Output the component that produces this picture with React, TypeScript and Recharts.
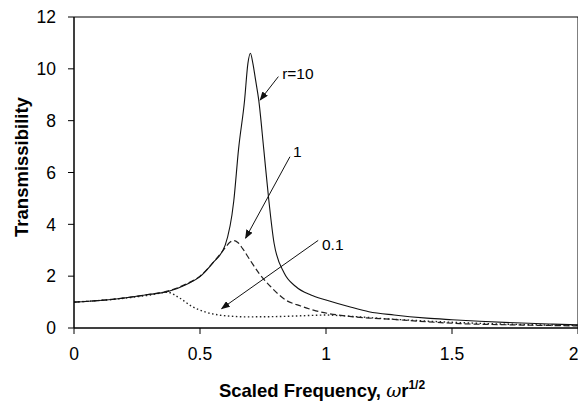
import React from 'react';
import {
  LineChart, Line, XAxis, YAxis, ReferenceArea, ReferenceLine, ReferenceDot,
} from 'recharts';

// r = 10 (solid)
const freqR10 = [0, 0.1, 0.2, 0.3, 0.37, 0.45, 0.5, 0.55, 0.6, 0.634, 0.653, 0.677, 0.69, 0.7, 0.71, 0.72, 0.733, 0.753, 0.773, 0.794, 0.834, 0.88, 0.94, 1.0, 1.1, 1.17, 1.27, 1.4, 1.5, 1.61, 1.75, 1.9, 2.0];
const transR10 = [1.0, 1.06, 1.16, 1.3, 1.4, 1.7, 1.98, 2.5, 3.2, 4.9, 6.9, 8.8, 10.2, 10.6, 10.2, 9.6, 8.8, 6.9, 4.94, 3.27, 2.12, 1.6, 1.27, 1.08, 0.8, 0.63, 0.5, 0.38, 0.32, 0.26, 0.2, 0.15, 0.12];

// r = 1 (dashed)
const freqR1 = [0, 0.1, 0.2, 0.3, 0.37, 0.45, 0.5, 0.55, 0.58, 0.6, 0.62, 0.635, 0.65, 0.67, 0.7, 0.735, 0.78, 0.84, 0.9, 0.95, 1.1, 1.27, 1.4, 1.53, 1.75, 2.0];
const transR1 = [1.0, 1.06, 1.16, 1.3, 1.42, 1.72, 2.0, 2.5, 2.85, 3.1, 3.32, 3.37, 3.3, 3.05, 2.6, 2.1, 1.6, 1.08, 0.85, 0.69, 0.44, 0.33, 0.24, 0.17, 0.12, 0.08];

// r = 0.1 (dotted)
const freqR01 = [0, 0.1, 0.2, 0.3, 0.37, 0.42, 0.47, 0.52, 0.575, 0.63, 0.68, 0.8, 0.9, 1.0, 1.1, 1.25, 1.5, 1.75, 2.0];
const transR01 = [1.0, 1.06, 1.15, 1.27, 1.38, 1.15, 0.82, 0.62, 0.5, 0.45, 0.43, 0.44, 0.47, 0.5, 0.45, 0.35, 0.22, 0.14, 0.1];

const xTicks = [0, 0.5, 1, 1.5, 2];
const yTicks = [0, 2, 4, 6, 8, 10, 12];

const toPoints = (xs: number[], ys: number[]) => xs.map((x, i) => ({ x, y: ys[i] }));

const seriesR10 = toPoints(freqR10, transR10);
const seriesR1 = toPoints(freqR1, transR1);
const seriesR01 = toPoints(freqR01, transR01);

// callouts: label anchor, arrow start, arrow end (in data units)
const callouts = [
  { text: 'r=10', at: { x: 0.826, y: 9.82 }, from: { x: 0.811, y: 9.7 }, to: { x: 0.739, y: 8.8 } },
  { text: '1', at: { x: 0.869, y: 6.81 }, from: { x: 0.857, y: 6.61 }, to: { x: 0.681, y: 3.47 } },
  { text: '0.1', at: { x: 0.984, y: 3.24 }, from: { x: 0.969, y: 3.38 }, to: { x: 0.586, y: 0.75 } },
];

const FONT = '"Liberation Sans", Arial, sans-serif';

const arrowShape = (p: any) => (
  <line x1={p.x1} y1={p.y1} x2={p.x2} y2={p.y2} stroke="#111" strokeWidth={1} markerEnd="url(#arrowHead)" />
);

const XLabel = (props: any) => {
  const vb = props.viewBox;
  return (
    <text x={vb.x + vb.width / 2 - 4} y={vb.y + 69} textAnchor="middle" fontFamily={FONT} fontWeight="bold" fontSize={18.5} fill="#000">
      Scaled Frequency, <tspan fontFamily="'DejaVu Serif', serif" fontStyle="italic" fontWeight="normal">ω</tspan>r
      <tspan dy={-8} fontSize={12}>1/2</tspan>
    </text>
  );
};

const YLabel = () => (
  <text x={28} y={167} transform="rotate(-90, 28, 167)" textAnchor="middle" fontFamily={FONT} fontWeight="bold" fontSize={18.5} fill="#000">
    Transmissibility
  </text>
);

export default function App() {
  return (
    <div style={{ position: 'absolute', left: 0, top: 0, width: 578, height: 404, background: '#fff' }}>
      <svg width={0} height={0} style={{ position: 'absolute' }}>
        <defs>
          <marker id="arrowHead" markerWidth={9} markerHeight={7} refX={8} refY={3.5} orient="auto" markerUnits="userSpaceOnUse">
            <path d="M0,0 L9,3.5 L0,7 z" fill="#111" />
          </marker>
        </defs>
      </svg>
      <LineChart width={578} height={404} margin={{ top: 17, right: 0, left: 0, bottom: 0 }}>
        <XAxis
          type="number"
          dataKey="x"
          domain={[0, 2]}
          ticks={xTicks}
          allowDataOverflow
          height={76}
          stroke="#000"
          tickSize={6}
          tickMargin={14}
          tick={{ fontSize: 17.5, fill: '#000', fontFamily: FONT }}
          label={<XLabel />}
        />
        <YAxis
          type="number"
          domain={[0, 12]}
          ticks={yTicks}
          allowDataOverflow
          width={74}
          stroke="#000"
          tickSize={6}
          tickMargin={12}
          tick={{ fontSize: 17.5, fill: '#000', fontFamily: FONT }}
          label={<YLabel />}
        />
        <ReferenceArea x1={0} x2={2} y1={0} y2={12} fill="none" stroke="#000" strokeWidth={1} />
        <Line data={seriesR01} dataKey="y" type="monotone" stroke="#222" strokeWidth={1.4} strokeDasharray="1.5 2.5" dot={false} isAnimationActive={false} />
        <Line data={seriesR1} dataKey="y" type="monotone" stroke="#222" strokeWidth={1.2} strokeDasharray="6 3" dot={false} isAnimationActive={false} />
        <Line data={seriesR10} dataKey="y" type="monotone" stroke="#111" strokeWidth={1.1} dot={false} isAnimationActive={false} />
        {callouts.map((c) => (
          <ReferenceLine key={'l' + c.text} segment={[c.from, c.to]} shape={arrowShape} />
        ))}
        {callouts.map((c) => (
          <ReferenceDot
            key={'d' + c.text}
            x={c.at.x}
            y={c.at.y}
            r={0}
            fill="none"
            stroke="none"
            label={{ value: c.text, position: 'right', offset: 0, fontSize: 15.5, fill: '#000', fontFamily: FONT }}
          />
        ))}
      </LineChart>
    </div>
  );
}
